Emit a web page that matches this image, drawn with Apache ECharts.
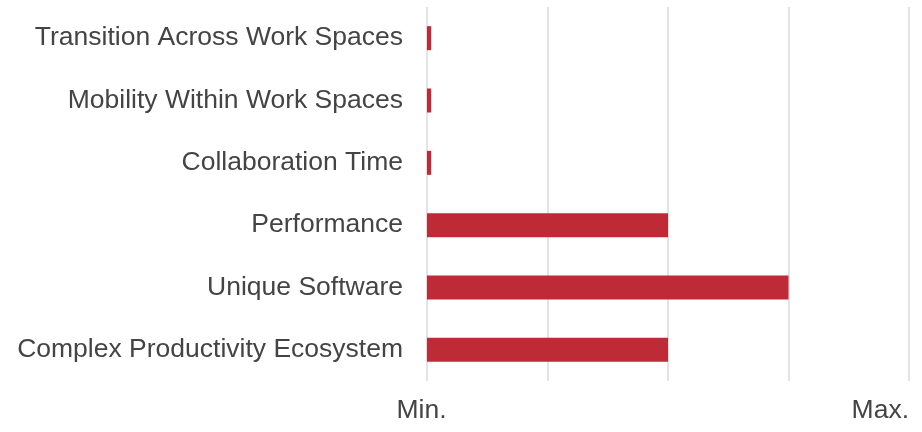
<!DOCTYPE html>
<html lang="en">
<head>
    <meta charset="UTF-8">
    <title>Work spaces</title>
    <script src="https://cdn.jsdelivr.net/npm/echarts@6/dist/echarts.min.js"></script>
    <style>
        html, body {margin: 0; padding: 0; background: #fff;}
        #main {width: 922px; height: 432px;}
    </style>
</head>
<body>
<div id="main"></div>
<script>
    // categories, bottom to top
    var categories = ['Complex Productivity Ecosystem', 'Unique Software', 'Performance',
        'Collaboration Time', 'Mobility Within Work Spaces', 'Transition Across Work Spaces'];
    var values = [2, 3, 2, 0.035, 0.035, 0.035];
    var tickLabels = ['Min.', '', '', '', 'Max.'];

    var myChart = echarts.init(document.getElementById('main'));
    var option = {
        animation: false,
        grid: {left: 427, right: 13, top: 7, bottom: 51},
        xAxis: {
            type: 'value',
            min: 0,
            max: 4,
            interval: 1,
            axisLine: {show: false},
            axisTick: {show: false},
            splitLine: {lineStyle: {color: '#e3e3e3', width: 2}},
            axisLabel: {
                color: '#444',
                fontSize: 26.5,
                fontFamily: 'Liberation Sans, Arial, sans-serif',
                margin: 16,
                alignMaxLabel: 'right',
                formatter: function (v) {
                    var t = tickLabels[Math.round(v)] || '';
                    return v === 0 ? '{first|' + t + '}' : t;
                },
                rich: {
                    first: {
                        color: '#444',
                        fontSize: 26.5,
                        fontFamily: 'Liberation Sans, Arial, sans-serif',
                        padding: [0, 11, 0, 0]
                    }
                }
            }
        },
        yAxis: {
            type: 'category',
            data: categories,
            axisLine: {show: false},
            axisTick: {show: false},
            axisLabel: {
                color: '#444',
                fontSize: 26.5,
                fontFamily: 'Liberation Sans, Arial, sans-serif',
                margin: 24,
                padding: [5, 0, 0, 0]
            }
        },
        series: [{
            type: 'bar',
            data: values,
            barWidth: 24,
            itemStyle: {color: '#be2a35'}
        }]
    };
    myChart.setOption(option);
</script>
</body>
</html>
